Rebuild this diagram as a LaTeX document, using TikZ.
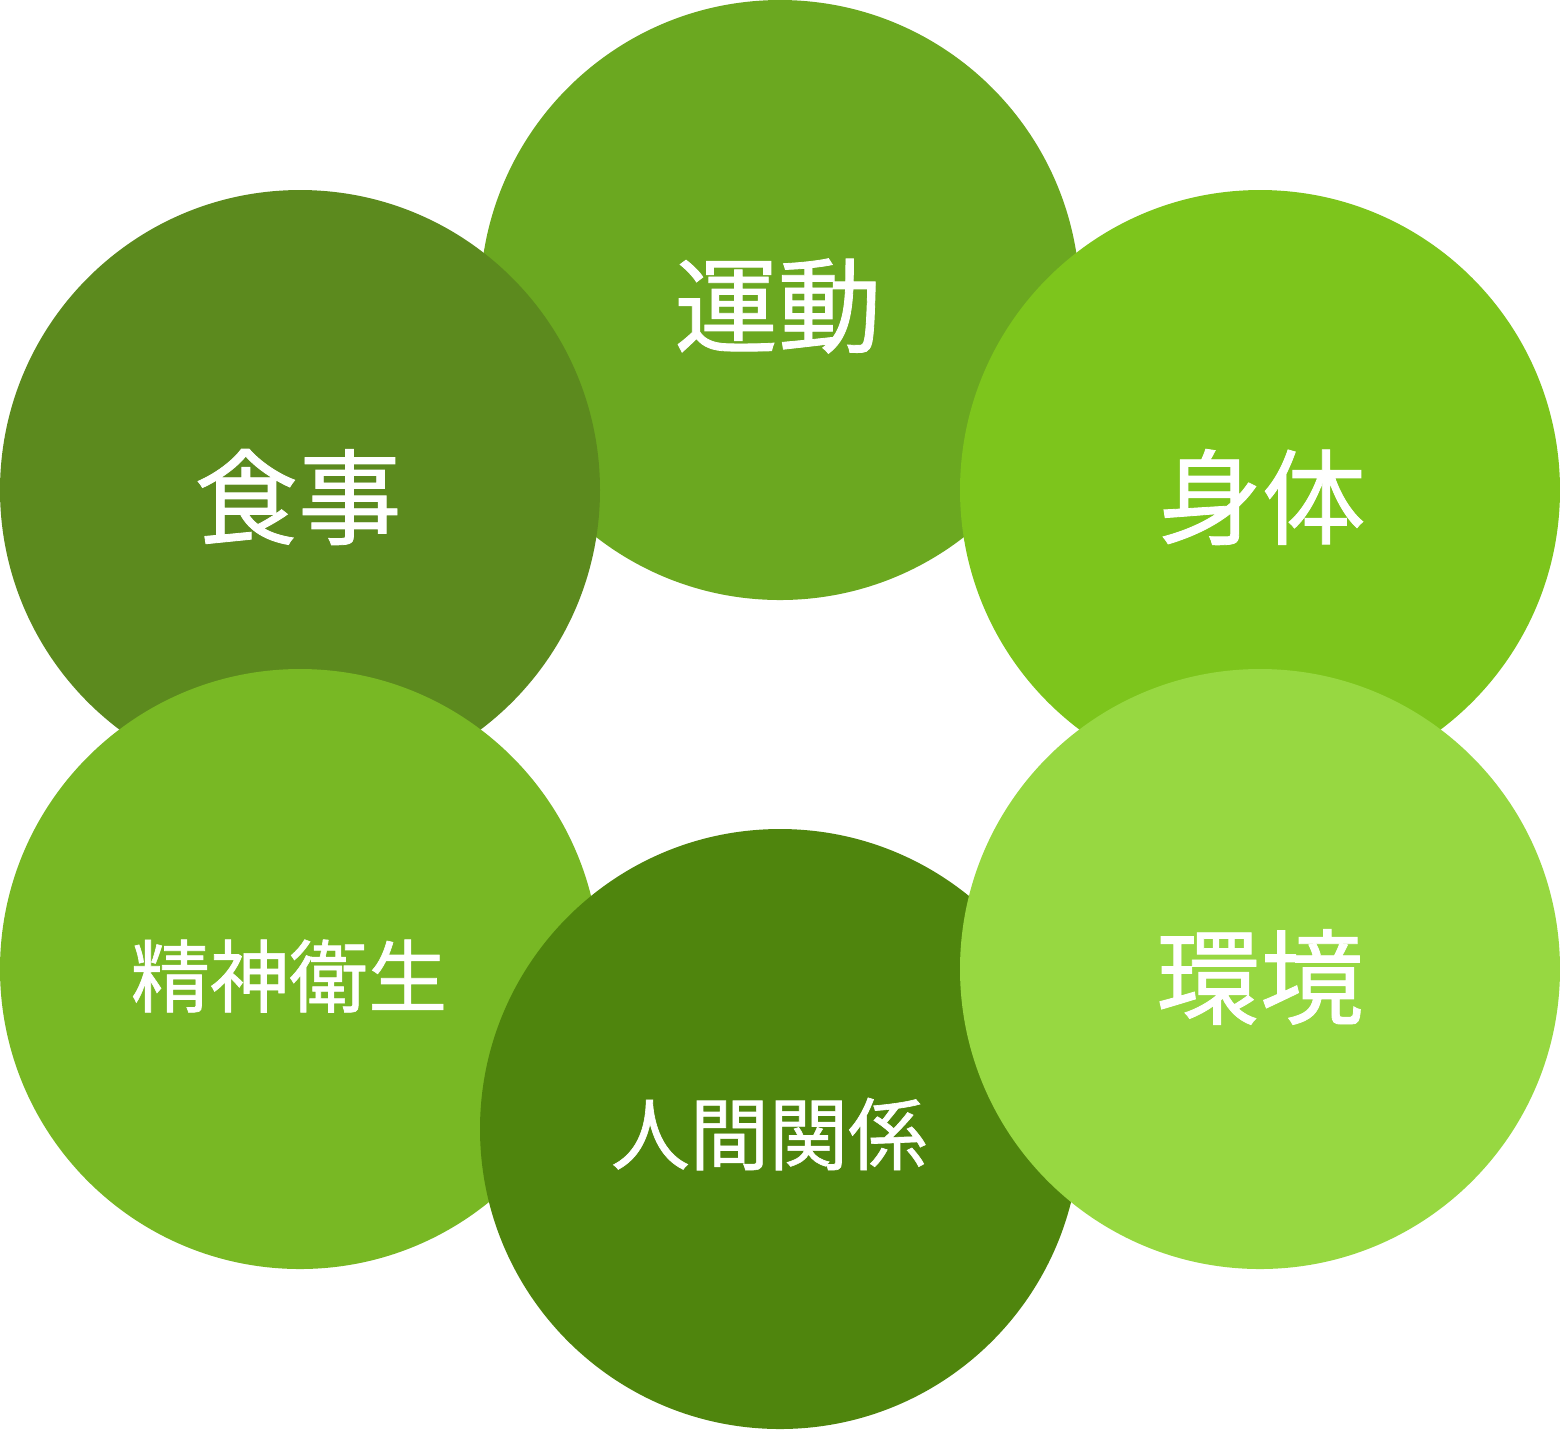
\documentclass[tikz,border=0pt]{standalone}
\usepackage{fontspec}
\usepackage{xcolor}
\usepackage{tikz}
\newfontfamily\cjk[FakeBold=0.8]{Noto Sans CJK JP}
\definecolor{undou}{HTML}{6BA820}
\definecolor{shokuji}{HTML}{5C8A1E}
\definecolor{shintai}{HTML}{7DC51C}
\definecolor{seishin}{HTML}{78B824}
\definecolor{ningen}{HTML}{4F850D}
\definecolor{kankyou}{HTML}{97D841}
\tikzset{
  ball/.style={circle, minimum size=60mm, inner sep=0pt},
  big/.style={text=white, inner sep=0pt, font=\cjk\fontsize{29.5}{29.5}\selectfont},
  small/.style={text=white, inner sep=0pt, font=\cjk\fontsize{22.5}{22.5}\selectfont},
}

\begin{document}
\begin{tikzpicture}[x=0.1mm, y=-0.1mm]
  \useasboundingbox (0,0) rectangle (1560,1429);
  % circles, back to front
  \node[ball, fill=undou] (U) at (780,300) {};
  \node[big] (U-t) at ([shift={(-2,6)}]U) {運動};
  \node[ball, fill=shokuji] (S) at (300,490) {};
  \node[big] (S-t) at ([shift={(-2,7)}]S) {食事};
  \node[ball, fill=shintai] (T) at (1260,490) {};
  \node[big] (T-t) at ([shift={(2,7)}]T) {身体};
  \node[ball, fill=seishin] (M) at (300,969) {};
  \node[small] (M-t) at ([shift={(-11,7)}]M) {精神衛生};
  \node[ball, fill=ningen] (N) at (780,1129) {};
  \node[small] (N-t) at ([shift={(-11,5)}]N) {人間関係};
  \node[ball, fill=kankyou] (K) at (1260,969) {};
  \node[big] (K-t) at ([shift={(0,8)}]K) {環境};
\end{tikzpicture}
\end{document}
